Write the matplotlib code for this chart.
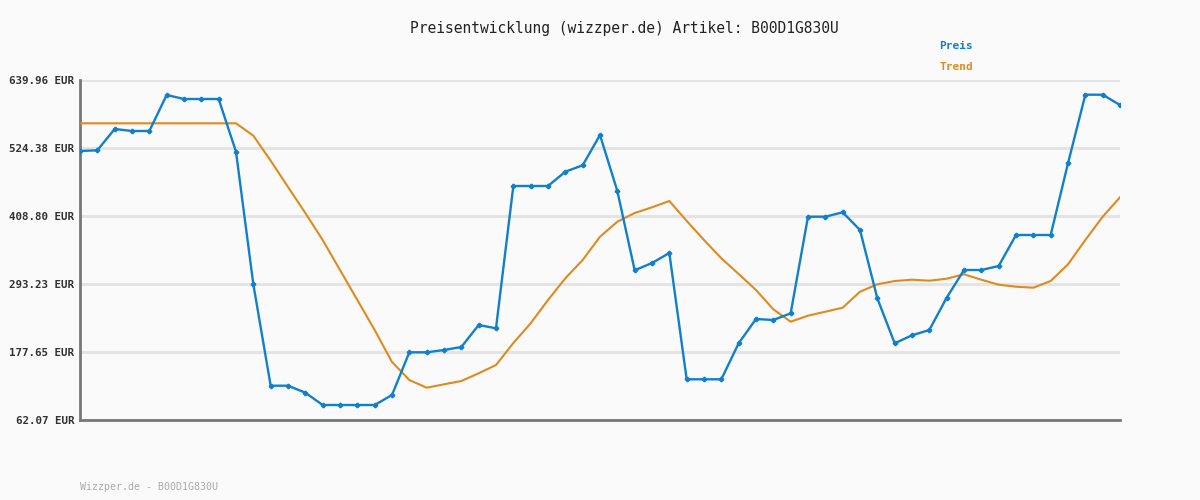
import matplotlib.pyplot as plt

# Preisverlauf (blau) und Trend (orange), 61 Messpunkte
preis = [519.28, 520.47, 556.68, 553.28, 553.28, 614.46, 607.67, 607.67, 607.67, 518.09,
         292.71, 120.37, 120.37, 108.47, 87.56, 87.56, 87.56, 87.56, 104.56, 177.14,
         177.14, 181.05, 186.15, 223.54, 217.93, 459.79, 459.79, 459.79, 484.10, 494.98,
         546.48, 451.30, 316.51, 328.92, 345.92, 131.25, 131.25, 131.25, 192.43, 233.74,
         232.04, 243.42, 407.61, 407.61, 415.09, 385.01, 268.92, 192.43, 206.03, 215.04,
         269.94, 317.02, 317.02, 323.82, 376.51, 376.51, 376.51, 498.38, 614.97, 614.97,
         597.47]
trend = [566.36, 566.36, 566.36, 566.36, 566.36, 566.36, 566.36, 566.36, 566.36, 566.36,
         545.29, 502.80, 458.09, 413.90, 368.01, 317.02, 266.03, 215.04, 160.65, 130.06,
         116.97, 122.75, 128.36, 141.44, 155.55, 192.94, 226.43, 266.03, 302.91, 334.02,
         373.62, 399.11, 413.90, 423.59, 434.30, 400.47, 368.01, 336.91, 310.22, 283.03,
         250.22, 229.15, 239.35, 246.14, 252.94, 280.14, 292.71, 298.32, 300.53, 298.83,
         302.23, 309.71, 300.53, 292.03, 288.64, 286.94, 298.32, 326.71, 368.01, 407.61,
         440.59]
y_ticks = [62.07, 177.65, 293.23, 408.80, 524.38, 639.96]

blau = '#1080cc'
orange = '#e08a1e'
bg = '#fafafa'
mono = 'DejaVu Sans Mono'

fig = plt.figure(figsize=(12, 5), dpi=100, facecolor=bg)
ax = fig.add_axes([80 / 1200, 80 / 500, 1040 / 1200, 340 / 500])
ax.set_facecolor(bg)

x = list(range(len(preis)))
ax.plot(x, trend, color=orange, lw=1.5, zorder=3)
ax.plot(x, preis, color=blau, lw=1.7, marker='P', ms=3, zorder=4)

ax.set_xlim(0, len(preis) - 1)
ax.set_ylim(y_ticks[0], y_ticks[-1])
ax.set_yticks(y_ticks)
ax.set_yticklabels([f'{v:.2f} EUR' for v in y_ticks], fontfamily=mono,
                   fontweight='bold', fontsize=7.8, color='#333333')
ax.set_xticks([])
ax.tick_params(axis='y', length=0, pad=4)
ax.grid(axis='y', color='#e4e4e4', lw=2.2, zorder=0)
for s in ['top', 'right']:
    ax.spines[s].set_visible(False)
for s in ['left', 'bottom']:
    ax.spines[s].set_color('#777777')
    ax.spines[s].set_linewidth(2)

fig.text(624 / 1200, 1 - 28 / 500, 'Preisentwicklung (wizzper.de) Artikel: B00D1G830U',
         ha='center', va='center', fontfamily=mono, fontsize=10.5, color='#222222')
fig.text(939 / 1200, 1 - 46 / 500, 'Preis', ha='left', va='center', fontfamily=mono,
         fontsize=8, fontweight='bold', color=blau)
fig.text(939 / 1200, 1 - 67 / 500, 'Trend', ha='left', va='center', fontfamily=mono,
         fontsize=8, fontweight='bold', color=orange)
fig.text(80 / 1200, 1 - 487 / 500, 'Wizzper.de - B00D1G830U', ha='left', va='center',
         fontfamily=mono, fontsize=7.2, color='#aaaaaa')

fig.savefig('out.png', dpi=100, facecolor=bg)
